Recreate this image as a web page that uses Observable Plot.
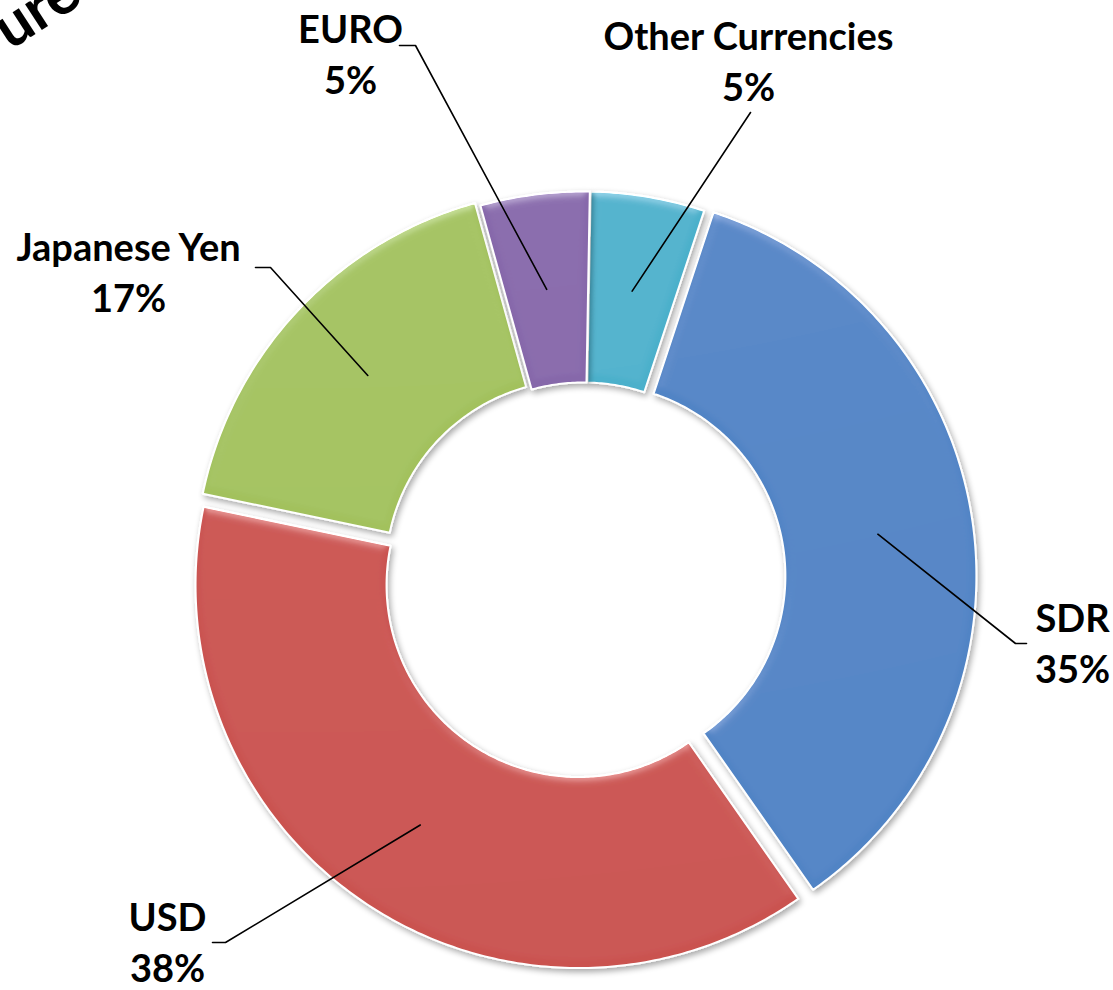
<!DOCTYPE html>
<html><head><meta charset="utf-8">
<script src="https://cdn.jsdelivr.net/npm/d3@7"></script>
<script src="https://cdn.jsdelivr.net/npm/@observablehq/plot@0.6"></script>
<style>body{margin:0;background:#fff}</style>
</head><body><div id="chart"></div>
<script>
// ---- data ----
const currencies = ["Other Currencies", "SDR", "USD", "Japanese Yen", "EURO"];
const shares = [4.8, 35.2, 38.0, 17.4, 4.6];   // percent
const colors = ["#4BB0CB", "#5184C5", "#CA5350", "#A2C15D", "#8667AA"];

// ---- layout ----
const W = 1113, H = 990, cx = 583, cy = 577, R = 383, r0 = 192;
const startDeg = 1;
const explode = [3, 10, 9, 8, 3];
const labelPos = [[748, 59], [1072, 641], [167, 940], [128, 270], [350, 52]];
const leaderEnds = [[[750, 112]], [[1015, 643], [1026, 643]], [[225, 942], [212, 942]], [[270, 267], [255, 267]], [[415, 45], [399, 45]]];

const a0 = startDeg * Math.PI / 180;
const pie = d3.pie().sort(null).startAngle(a0).endAngle(a0 + 2 * Math.PI).value(d => d)(shares);
const slicePts = [], leaderPts = [], labels = [];
pie.forEach((p, i) => {
  const mid = (p.startAngle + p.endAngle) / 2;
  const ox = explode[i] * Math.sin(mid), oy = -explode[i] * Math.cos(mid);
  const n = Math.max(10, Math.ceil((p.endAngle - p.startAngle) * 80));
  for (let k = 0; k <= n; k++) {
    const a = p.startAngle + (p.endAngle - p.startAngle) * k / n;
    slicePts.push({name: currencies[i], x: cx + ox + R * Math.sin(a), y: cy + oy - R * Math.cos(a)});
  }
  for (let k = n; k >= 0; k--) {
    const a = p.startAngle + (p.endAngle - p.startAngle) * k / n;
    slicePts.push({name: currencies[i], x: cx + ox + r0 * Math.sin(a), y: cy + oy - r0 * Math.cos(a)});
  }
  const rm = (R + r0) / 2;
  leaderPts.push({name: currencies[i], x: cx + ox + rm * Math.sin(mid), y: cy + oy - rm * Math.cos(mid)});
  leaderEnds[i].forEach(([x, y]) => leaderPts.push({name: currencies[i], x, y}));
  labels.push({text: `${currencies[i]}\n${Math.round(shares[i])}%`, x: labelPos[i][0], y: labelPos[i][1]});
});

const chart = Plot.plot({
  width: W, height: H,
  margin: 0,
  x: {domain: [0, W], axis: null},
  y: {domain: [H, 0], axis: null},
  color: {domain: currencies, range: colors},
  style: {background: "white"},
  marks: [
    Plot.line(slicePts, {x: "x", y: "y", z: "name", fill: "name", stroke: "white", strokeWidth: 2, curve: "linear-closed"}),
    Plot.line(leaderPts, {x: "x", y: "y", z: "name", stroke: "black", strokeWidth: 1.6}),
    Plot.text(labels, {x: "x", y: "y", text: "text", fontSize: 38, fontWeight: 700, fontFamily: "Lato", lineHeight: 1.34, fill: "black"}),
    Plot.text([{t: "ure", x: 36, y: 10}], {x: "x", y: "y", text: "t", rotate: -33, fontSize: 60, fontWeight: 700, fontFamily: "Lato", fill: "black"})
  ]
});

// bevel look
const svg = chart.tagName.toLowerCase() === "svg" ? chart : chart.querySelector("svg");
const defs = document.createElementNS("http://www.w3.org/2000/svg", "defs");
defs.innerHTML = `
<filter id="bevel" x="-10%" y="-10%" width="120%" height="120%">
  <feGaussianBlur in="SourceAlpha" stdDeviation="5" result="blur"/>
  <feSpecularLighting in="blur" surfaceScale="3" specularConstant="0.5" specularExponent="18" lighting-color="#ffffff" result="spec">
    <fePointLight x="300" y="-2000" z="1500"/>
  </feSpecularLighting>
  <feComposite in="spec" in2="SourceAlpha" operator="in" result="specIn"/>
  <feComposite in="SourceGraphic" in2="specIn" operator="arithmetic" k1="0" k2="1" k3="0.4" k4="0" result="lit"/>
  <feGaussianBlur in="SourceAlpha" stdDeviation="3" result="sh"/>
  <feOffset in="sh" dx="2" dy="3" result="sho"/>
  <feComponentTransfer in="sho" result="shf"><feFuncA type="linear" slope="0.35"/></feComponentTransfer>
  <feMerge><feMergeNode in="shf"/><feMergeNode in="lit"/></feMerge>
</filter>`;
svg.insertBefore(defs, svg.firstChild);
const firstLine = svg.querySelector('g[aria-label="line"]');
if (firstLine) firstLine.querySelectorAll("path").forEach(p => p.setAttribute("filter", "url(#bevel)"));

document.getElementById("chart").appendChild(chart);
</script>
</body></html>
